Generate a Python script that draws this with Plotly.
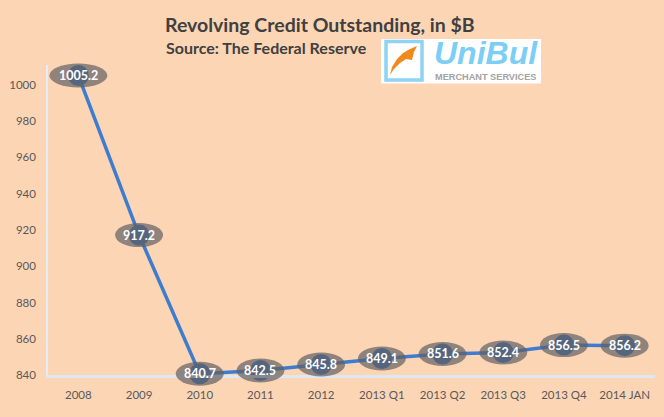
import plotly.graph_objects as go

categories = ["2008", "2009", "2010", "2011", "2012", "2013 Q1", "2013 Q2", "2013 Q3", "2013 Q4", "2014 JAN"]
values = [1005.2, 917.2, 840.7, 842.5, 845.8, 849.1, 851.6, 852.4, 856.5, 856.2]
y_ticks = [840, 860, 880, 900, 920, 940, 960, 980, 1000]

Y_LO, Y_HI = 840, 1011
BG = "#FCD5B5"
LINE = "#3D7CCF"
TXT = "#595959"

# plot area in pixels (for converting outside-plot decorations)
L, R, T, B = 48, 9, 65, 42
W, H = 664, 417
PW, PH = W - L - R, H - T - B

def px_x(px):
    return (px - L) / PW

def px_y(py):
    return (H - B - py) / PH

xs = list(range(len(categories)))

fig = go.Figure()
fig.add_trace(go.Scatter(
    x=xs, y=values, mode="lines+markers",
    line=dict(color=LINE, width=3.5),
    marker=dict(size=21, color="#3B72C0"),
    cliponaxis=False, hoverinfo="skip", showlegend=False,
))

shapes = []
annotations = []
for i, v in enumerate(values):
    lab = f"{v:.1f}"
    half_w = (10 * len(lab) - 2) / 2
    frac = (v - Y_LO) / (Y_HI - Y_LO)
    shapes.append(dict(
        type="circle", xref="x", yref="y domain",
        xsizemode="pixel", ysizemode="pixel",
        xanchor=i, yanchor=frac,
        x0=-half_w, x1=half_w, y0=-12, y1=12,
        fillcolor="rgba(98,96,98,0.70)", line=dict(width=0), layer="above",
    ))
    annotations.append(dict(
        x=i, y=v, xref="x", yref="y", text=f"<b>{lab}</b>", showarrow=False,
        font=dict(family="Lato, Open Sans, sans-serif", size=12.5, color="white"),
        xanchor="center", yanchor="middle",
    ))

# Titles
annotations.append(dict(
    x=px_x(320), y=px_y(25), xref="paper", yref="paper",
    text="<b>Revolving Credit Outstanding, in $B</b>", showarrow=False,
    font=dict(family="Lato, Open Sans, sans-serif", size=19.5, color="#404040"),
    xanchor="center", yanchor="middle",
))
annotations.append(dict(
    x=px_x(164), y=px_y(48), xref="paper", yref="paper",
    text="<b>Source: The Federal Reserve</b>", showarrow=False,
    font=dict(family="Lato, Open Sans, sans-serif", size=16, color="#404040"),
    xanchor="left", yanchor="middle",
))

# Logo (UniBul Merchant Services)
shapes.append(dict(type="rect", xref="paper", yref="paper",
                   x0=px_x(381), x1=px_x(541), y0=px_y(83.5), y1=px_y(39),
                   fillcolor="white", line=dict(width=0), layer="above"))
shapes.append(dict(type="rect", xref="paper", yref="paper",
                   x0=px_x(386), x1=px_x(422), y0=px_y(80), y1=px_y(41.5),
                   fillcolor="rgba(0,0,0,0)", line=dict(width=3.5, color="#8ED2F4"), layer="above"))
# orange swoosh
sx = [390, 392, 397, 403, 410, 417, 414, 412, 406, 400, 394]
sy = [75, 67, 59, 53, 49, 46, 52, 60, 59, 63, 69]
path = "M " + " L ".join(f"{px_x(a)},{px_y(b)}" for a, b in zip(sx, sy)) + " Z"
shapes.append(dict(type="path", xref="paper", yref="paper", path=path,
                   fillcolor="#F08A1C", line=dict(width=0), layer="above"))
annotations.append(dict(
    x=px_x(486), y=px_y(53), xref="paper", yref="paper",
    text="<b><i>UniBul</i></b>", showarrow=False,
    font=dict(family="Liberation Sans, Arial, sans-serif", size=32, color="#7CCEF4"),
    xanchor="center", yanchor="middle",
))
annotations.append(dict(
    x=px_x(485), y=px_y(76.5), xref="paper", yref="paper",
    text="<b>MERCHANT SERVICES</b>", showarrow=False,
    font=dict(family="Liberation Sans, Arial, sans-serif", size=9.2, color="#A3A3A3"),
    xanchor="center", yanchor="middle",
))

fig.update_layout(
    width=W, height=H,
    margin=dict(l=L, r=R, t=T, b=B),
    paper_bgcolor=BG, plot_bgcolor=BG,
    shapes=shapes, annotations=annotations,
    showlegend=False,
    xaxis=dict(
        range=[-0.5, len(categories) - 0.5],
        tickvals=xs, ticktext=categories,
        showgrid=False, zeroline=False,
        showline=True, linecolor="#DDE8F5", linewidth=2.5,
        ticks="outside", ticklen=7, tickcolor="rgba(0,0,0,0)",
        tickfont=dict(family="Lato, Open Sans, sans-serif", size=11.5, color=TXT),
        fixedrange=True,
    ),
    yaxis=dict(
        range=[Y_LO, Y_HI], tickvals=y_ticks,
        showgrid=False, zeroline=False,
        showline=True, linecolor="#E4ECF6", linewidth=1.5,
        ticks="outside", ticklen=8, tickcolor="rgba(0,0,0,0)",
        tickfont=dict(family="Lato, Open Sans, sans-serif", size=11.5, color=TXT),
        fixedrange=True,
    ),
)

fig.write_html("out.html", config={"displayModeBar": False})
